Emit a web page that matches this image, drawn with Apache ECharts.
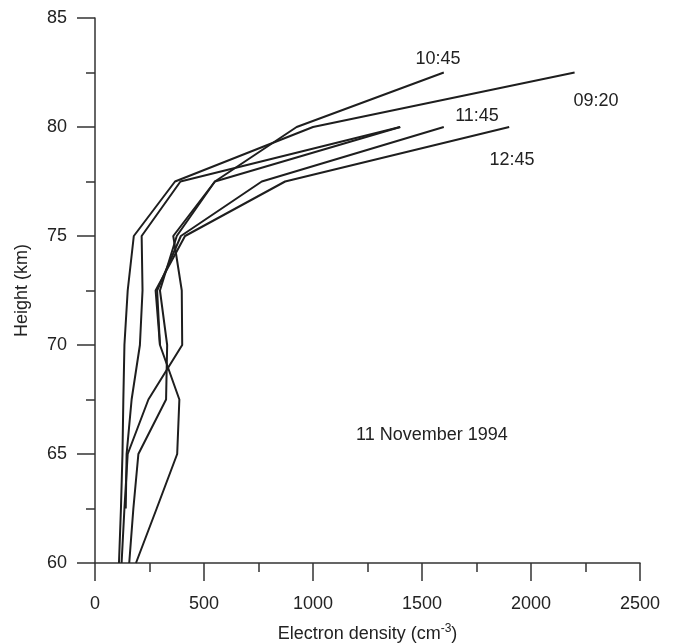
<!DOCTYPE html>
<html>
<head>
<meta charset="utf-8">
<script src="https://cdn.jsdelivr.net/npm/echarts@6/dist/echarts.min.js"></script>
<style>
html,body{margin:0;padding:0;background:#fff;}
#chart{width:677px;height:644px;}
</style>
</head>
<body>
<div id="chart"></div>
<script>
// Heights (km) at which each profile is sampled
var heights = [60, 62.5, 65, 67.5, 70, 72.5, 75, 77.5, 80, 82.5];
// Electron density (cm^-3) per profile; null = not measured
var d0920 = [110, 119, 126, 130, 135, 150, 178, 367, 1000, 2200];
var dUnlabA = [null, 141, 145, 168, 206, 218, 214, 392, 1400, null];
var d1045 = [122, 135, 150, 245, 400, 398, 359, 550, 925, 1600];
var dUnlabB = [157, 176, 199, 326, 331, 298, 375, 550, 1400, null];
var d1145 = [188, 283, 377, 387, 298, 285, 394, 765, 1600, null];
var d1245 = [null, null, null, null, 298, 278, 413, 872, 1900, null];
var profiles = [d0920, dUnlabA, d1045, dUnlabB, d1145, d1245];

var timeLabels = ['10:45', '09:20', '11:45', '12:45'];
var dateLabel = '11 November 1994';

var FONT = '"Liberation Sans", Arial, sans-serif';
var INK = '#1e1e1e';
var FS = 18;

function toPairs(arr) {
  var out = [];
  for (var i = 0; i < heights.length; i++) {
    if (arr[i] !== null) out.push([arr[i], heights[i]]);
  }
  return out;
}

var series = profiles.map(function (p) {
  return {
    type: 'line',
    data: toPairs(p),
    symbol: 'none',
    lineStyle: { color: INK, width: 2 },
    silent: true,
    animation: false
  };
});

var chart = echarts.init(document.getElementById('chart'), null, { renderer: 'canvas' });
var labelPos = [[438, 59], [596, 101], [477, 116], [512, 160]];
var graphics = timeLabels.map(function (t, i) {
  return {
    type: 'text', x: labelPos[i][0], y: labelPos[i][1],
    style: { text: t, fill: '#222', font: FS + 'px ' + FONT, align: 'center', verticalAlign: 'middle', textAlign: 'center', textVerticalAlign: 'middle' }
  };
});
graphics.push({
  type: 'text', x: 432, y: 435,
  style: { text: dateLabel, fill: '#222', font: FS + 'px ' + FONT, align: 'center', verticalAlign: 'middle', textAlign: 'center', textVerticalAlign: 'middle' }
});

chart.setOption({
  animation: false,
  backgroundColor: '#fff',
  grid: { left: 95, right: 37, top: 18, bottom: 81, containLabel: false, outerBoundsMode: 'none' },
  xAxis: {
    type: 'value', min: 0, max: 2500, interval: 500,
    name: '{a|Electron density (cm}{s|-3}{a|)}',
    nameLocation: 'middle', nameGap: 60,
    nameTextStyle: {
      rich: {
        a: { fontSize: FS, fontFamily: FONT, color: '#222' },
        s: { fontSize: 12, fontFamily: FONT, color: '#222', padding: [0, 0, 10, 0] }
      }
    },
    axisLine: { show: true, onZero: false, lineStyle: { color: '#333', width: 1.5 } },
    axisTick: { show: true, inside: false, length: 18, lineStyle: { color: '#333', width: 1.5 } },
    minorTick: { show: true, splitNumber: 2, length: 9, lineStyle: { color: '#333', width: 1.5 } },
    splitLine: { show: false },
    minorSplitLine: { show: false },
    axisLabel: { margin: 32, fontSize: FS, fontFamily: FONT, color: '#222', formatter: function (v) { return String(v); } }
  },
  yAxis: {
    type: 'value', min: 60, max: 85, interval: 5,
    name: 'Height (km)',
    nameLocation: 'middle', nameGap: 64, nameRotate: 90,
    nameTextStyle: { fontSize: FS, fontFamily: FONT, color: '#222' },
    axisLine: { show: true, onZero: false, lineStyle: { color: '#333', width: 1.5 } },
    axisTick: { show: true, inside: false, length: 18, lineStyle: { color: '#333', width: 1.5 } },
    minorTick: { show: true, splitNumber: 2, length: 9, lineStyle: { color: '#333', width: 1.5 } },
    splitLine: { show: false },
    minorSplitLine: { show: false },
    axisLabel: { margin: 28, fontSize: FS, fontFamily: FONT, color: '#222', formatter: function (v) { return String(v); } }
  },
  series: series,
  graphic: graphics
});
</script>
</body>
</html>
